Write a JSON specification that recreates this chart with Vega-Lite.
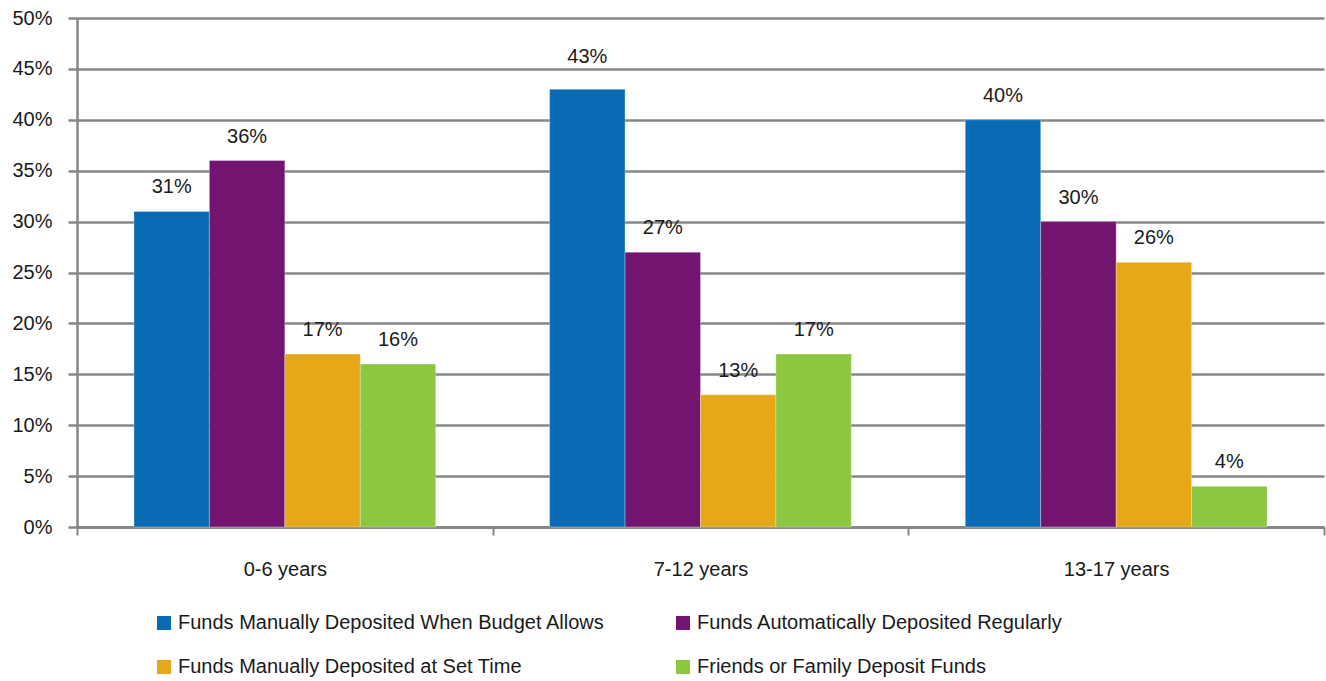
{
  "$schema": "https://vega.github.io/schema/vega-lite/v6.json",
  "autosize": {"type": "none"},
  "width": 1247,
  "height": 509,
  "padding": {"left": 77, "top": 18, "right": 2, "bottom": 154},
  "background": "white",
  "config": {
    "font": "Liberation Sans",
    "view": {"stroke": null},
    "axis": {"labelFont": "Liberation Sans", "labelFontSize": 20, "labelColor": "#1a1a1a"}
  },
  "data": {
    "values": [
      {"age": "0-6 years", "method": "Funds Manually Deposited When Budget Allows", "share": 0.31},
      {"age": "0-6 years", "method": "Funds Automatically Deposited Regularly", "share": 0.36},
      {"age": "0-6 years", "method": "Funds Manually Deposited at Set Time", "share": 0.17},
      {"age": "0-6 years", "method": "Friends or Family Deposit Funds", "share": 0.16},
      {"age": "7-12 years", "method": "Funds Manually Deposited When Budget Allows", "share": 0.43},
      {"age": "7-12 years", "method": "Funds Automatically Deposited Regularly", "share": 0.27},
      {"age": "7-12 years", "method": "Funds Manually Deposited at Set Time", "share": 0.13},
      {"age": "7-12 years", "method": "Friends or Family Deposit Funds", "share": 0.17},
      {"age": "13-17 years", "method": "Funds Manually Deposited When Budget Allows", "share": 0.40},
      {"age": "13-17 years", "method": "Funds Automatically Deposited Regularly", "share": 0.30},
      {"age": "13-17 years", "method": "Funds Manually Deposited at Set Time", "share": 0.26},
      {"age": "13-17 years", "method": "Friends or Family Deposit Funds", "share": 0.04}
    ]
  },
  "encoding": {
    "x": {
      "field": "age",
      "type": "nominal",
      "sort": ["0-6 years", "7-12 years", "13-17 years"],
      "scale": {"paddingInner": 0, "paddingOuter": 0},
      "axis": {
        "title": null,
        "labelAngle": 0,
        "tickBand": "extent",
        "domainColor": "#878787",
        "domainWidth": 3,
        "tickColor": "#878787",
        "tickWidth": 2,
        "tickSize": 8,
        "labelPadding": 24
      }
    },
    "xOffset": {
      "field": "method",
      "type": "nominal",
      "sort": [
        "Funds Manually Deposited When Budget Allows",
        "Funds Automatically Deposited Regularly",
        "Funds Manually Deposited at Set Time",
        "Friends or Family Deposit Funds"
      ],
      "scale": {"paddingInner": 0, "paddingOuter": 0.755}
    },
    "y": {
      "field": "share",
      "type": "quantitative",
      "scale": {"domain": [0, 0.5]},
      "axis": {
        "title": null,
        "format": ".0%",
        "values": [0, 0.05, 0.1, 0.15, 0.2, 0.25, 0.3, 0.35, 0.4, 0.45, 0.5],
        "labelOverlap": false,
        "grid": true,
        "gridColor": "#878787",
        "gridWidth": 2.5,
        "domainColor": "#878787",
        "domainWidth": 2.5,
        "tickColor": "#878787",
        "tickWidth": 2.5,
        "tickSize": 9,
        "labelPadding": 16
      }
    }
  },
  "layer": [
    {
      "mark": {"type": "bar", "stroke": "white", "strokeWidth": 0.6, "strokeOpacity": 0.5},
      "encoding": {
        "color": {
          "field": "method",
          "type": "nominal",
          "sort": [
            "Funds Manually Deposited When Budget Allows",
            "Funds Automatically Deposited Regularly",
            "Funds Manually Deposited at Set Time",
            "Friends or Family Deposit Funds"
          ],
          "scale": {"range": ["#0A6AB4", "#731470", "#E6A718", "#8DC63F"]},
          "legend": {
            "title": null,
            "orient": "none",
            "legendX": 77,
            "legendY": 595,
            "direction": "horizontal",
            "columns": 2,
            "gridAlign": "all",
            "columnPadding": 68,
            "rowPadding": 24,
            "symbolType": "square",
            "symbolSize": 196,
            "symbolStrokeWidth": 0,
            "symbolOpacity": 1,
            "labelFontSize": 20,
            "labelFont": "Liberation Sans",
            "labelColor": "#1a1a1a",
            "labelOffset": 4,
            "labelLimit": 600
          }
        }
      }
    },
    {
      "transform": [{"filter": "datum.share <= 0.42"}],
      "mark": {"type": "text", "fontSize": 20, "font": "Liberation Sans", "color": "#1a1a1a", "baseline": "alphabetic", "dy": -18},
      "encoding": {
        "text": {"field": "share", "type": "quantitative", "format": ".0%"}
      }
    },
    {
      "transform": [{"filter": "datum.share > 0.42"}],
      "mark": {"type": "text", "fontSize": 20, "font": "Liberation Sans", "color": "#1a1a1a", "baseline": "alphabetic", "dy": -26},
      "encoding": {
        "text": {"field": "share", "type": "quantitative", "format": ".0%"}
      }
    }
  ]
}
